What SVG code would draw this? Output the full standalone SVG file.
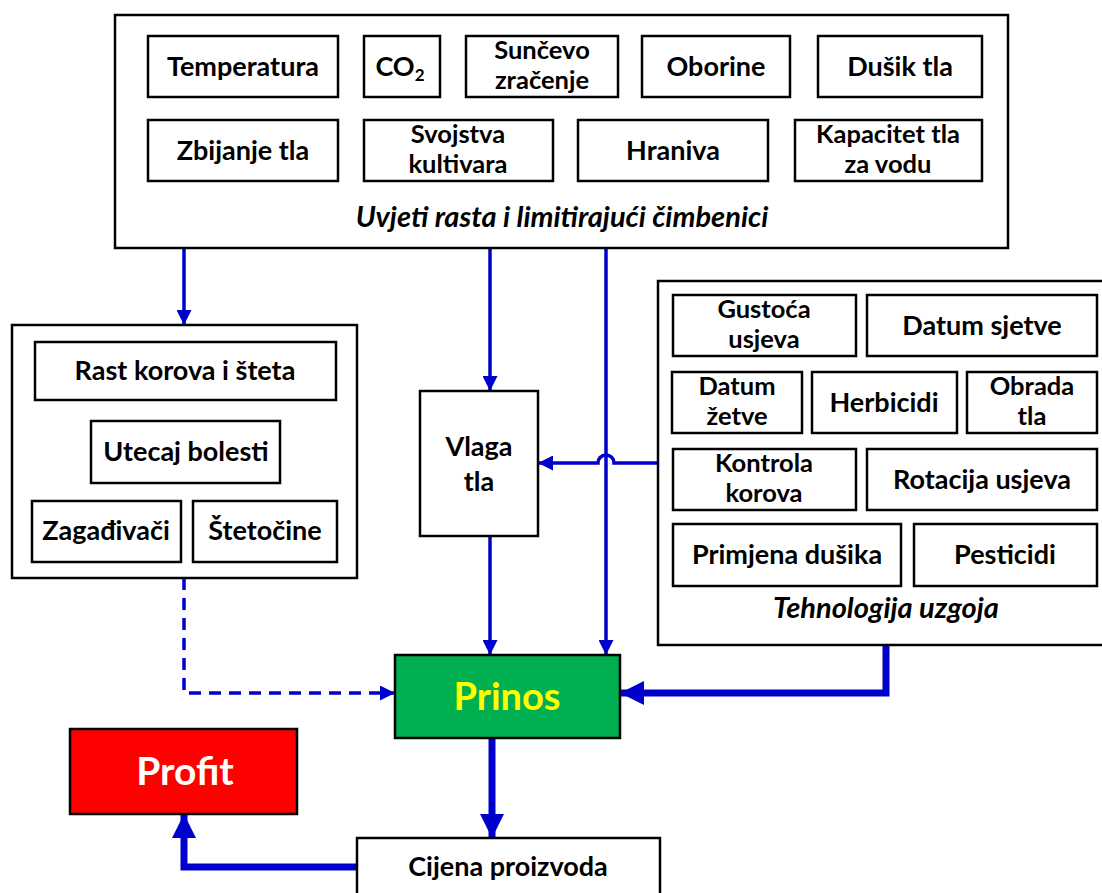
<svg xmlns="http://www.w3.org/2000/svg" width="1102" height="893" viewBox="0 0 1102 893">
<defs>
<style>
.box{fill:#fff;stroke:#000;stroke-width:2.5}
.t{font-family:Lato,"Open Sans",sans-serif;font-weight:bold;font-size:27px;fill:#000;text-anchor:middle}
.t2{font-family:Lato,"Open Sans",sans-serif;font-weight:bold;font-size:25.5px;fill:#000;text-anchor:middle}
.it{font-family:Lato,"Open Sans",sans-serif;font-weight:bold;font-style:italic;font-size:29px;fill:#000;text-anchor:middle}
.c{fill:none;stroke:#0000CC;stroke-width:3.5}
.ck{fill:none;stroke:#0000CC;stroke-width:7}
</style>
<marker id="as" viewBox="0 0 10 10" refX="10" refY="5" markerWidth="18" markerHeight="15" markerUnits="userSpaceOnUse" orient="auto"><path d="M0,0 L10,5 L0,10 z" fill="#0000CC"/></marker>
<marker id="ak" viewBox="0 0 10 10" refX="10" refY="5" markerWidth="26" markerHeight="24" markerUnits="userSpaceOnUse" orient="auto"><path d="M0,0 L10,5 L0,10 z" fill="#0000CC"/></marker>
</defs>

<g id="connectors">
<path class="c" d="M184,248 V325" marker-end="url(#as)"/>
<path class="c" d="M490,248 V391" marker-end="url(#as)"/>
<path class="c" d="M606,248 V655" marker-end="url(#as)"/>
<path class="c" d="M658,463 H614 a8,8 0 0 0 -16,0 H538" marker-end="url(#as)"/>
<path class="c" d="M490,536 V655" marker-end="url(#as)"/>
<path class="c" d="M184,578 V693 H395" stroke-dasharray="12,8" marker-end="url(#as)"/>
<path class="ck" d="M886,645 V693 H620" marker-end="url(#ak)"/>
<path class="ck" d="M492,738 V838" marker-end="url(#ak)"/>
<path class="ck" d="M357,867 H184 V814" marker-end="url(#ak)"/>
</g>

<g id="uvjeti">
<rect class="box" x="115" y="15" width="893" height="233"/>
<text class="it" x="562" y="227">Uvjeti rasta i limitirajući čimbenici</text>
</g>
<g id="temperatura"><rect class="box" x="148" y="36" width="190" height="61"/><text class="t" x="243" y="76">Temperatura</text></g>
<g id="co2"><rect class="box" x="364" y="36" width="76" height="61"/><text class="t" x="400" y="76">CO<tspan font-size="17" dy="5">2</tspan></text></g>
<g id="suncevo"><rect class="box" x="466" y="36" width="152" height="61"/><text class="t2" x="542" y="59">Sunčevo</text><text class="t2" x="542" y="89">zračenje</text></g>
<g id="oborine"><rect class="box" x="642" y="36" width="148" height="61"/><text class="t" x="716" y="76">Oborine</text></g>
<g id="dusik"><rect class="box" x="818" y="36" width="164" height="61"/><text class="t" x="900" y="76">Dušik tla</text></g>
<g id="zbijanje"><rect class="box" x="148" y="120" width="190" height="61"/><text class="t" x="243" y="160">Zbijanje tla</text></g>
<g id="svojstva"><rect class="box" x="364" y="120" width="189" height="61"/><text class="t2" x="458" y="143">Svojstva</text><text class="t2" x="458" y="173">kultivara</text></g>
<g id="hraniva"><rect class="box" x="578" y="120" width="190" height="61"/><text class="t" x="673" y="160">Hraniva</text></g>
<g id="kapacitet"><rect class="box" x="795" y="120" width="187" height="61"/><text class="t2" x="888" y="143">Kapacitet tla</text><text class="t2" x="888" y="173">za vodu</text></g>

<g id="stete">
<rect class="box" x="12" y="325" width="345" height="253"/>
</g>
<g id="rast"><rect class="box" x="35" y="342" width="301" height="58"/><text class="t" x="185" y="380">Rast korova i šteta</text></g>
<g id="utecaj"><rect class="box" x="91" y="421" width="189" height="62"/><text class="t" x="186" y="461">Utecaj bolesti</text></g>
<g id="zagadivaci"><rect class="box" x="32" y="501" width="149" height="61"/><text class="t" x="106" y="540">Zagađivači</text></g>
<g id="stetocine"><rect class="box" x="193" y="501" width="144" height="61"/><text class="t" x="265" y="540">Štetočine</text></g>

<g id="vlaga"><rect class="box" x="420" y="391" width="118" height="145"/><text class="t" x="479" y="456">Vlaga</text><text class="t" x="479" y="491">tla</text></g>

<g id="tehnologija">
<rect class="box" x="658" y="281" width="460" height="364"/>
<text class="it" x="886" y="618">Tehnologija uzgoja</text>
</g>
<g id="gustoca"><rect class="box" x="673" y="295" width="183" height="61"/><text class="t2" x="764" y="318">Gustoća</text><text class="t2" x="764" y="348">usjeva</text></g>
<g id="sjetva"><rect class="box" x="867" y="295" width="230" height="61"/><text class="t" x="982" y="335">Datum sjetve</text></g>
<g id="zetva"><rect class="box" x="672" y="372" width="130" height="61"/><text class="t2" x="737" y="395">Datum</text><text class="t2" x="737" y="425">žetve</text></g>
<g id="herbicidi"><rect class="box" x="812" y="372" width="145" height="61"/><text class="t" x="884" y="412">Herbicidi</text></g>
<g id="obrada"><rect class="box" x="967" y="372" width="130" height="61"/><text class="t2" x="1032" y="395">Obrada</text><text class="t2" x="1032" y="425">tla</text></g>
<g id="kontrola"><rect class="box" x="673" y="449" width="183" height="61"/><text class="t2" x="764" y="472">Kontrola</text><text class="t2" x="764" y="502">korova</text></g>
<g id="rotacija"><rect class="box" x="867" y="449" width="230" height="61"/><text class="t" x="982" y="489">Rotacija usjeva</text></g>
<g id="primjena"><rect class="box" x="673" y="524" width="228" height="62"/><text class="t" x="787" y="564">Primjena dušika</text></g>
<g id="pesticidi"><rect class="box" x="914" y="524" width="183" height="62"/><text class="t" x="1005" y="564">Pesticidi</text></g>

<g id="prinos"><rect x="395" y="655" width="225" height="83" fill="#00B050" stroke="#000" stroke-width="2.5"/><text class="t" x="507" y="710" style="font-size:38px;fill:#FFFF00">Prinos</text></g>
<g id="profit"><rect x="70" y="729" width="227" height="85" fill="#FF0000" stroke="#000" stroke-width="2.5"/><text class="t" x="185" y="785" style="font-size:39px;fill:#fff">Profit</text></g>
<g id="cijena"><rect class="box" x="357" y="838" width="303" height="70"/><text class="t" x="508" y="876">Cijena proizvoda</text></g>
</svg>
